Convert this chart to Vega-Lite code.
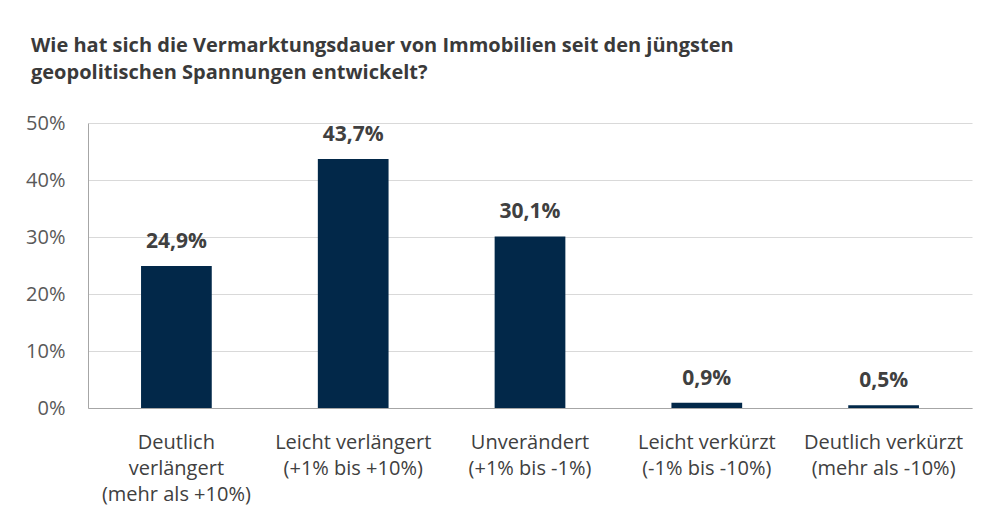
{
  "$schema": "https://vega.github.io/schema/vega-lite/v6.json",
  "width": 884,
  "height": 285,
  "autosize": {"type": "none"},
  "padding": {"left": 88, "top": 123, "right": 14, "bottom": 113},
  "background": "white",
  "config": {
    "locale": {"number": {"decimal": ",", "thousands": ".", "grouping": [3], "currency": ["", " €"]}},
    "font": "Open Sans",
    "view": {"stroke": null}
  },
  "title": {
    "text": ["Wie hat sich die Vermarktungsdauer von Immobilien seit den jüngsten", "geopolitischen Spannungen entwickelt?"],
    "anchor": "start",
    "frame": "group",
    "dx": -57,
    "offset": 30,
    "fontSize": 20,
    "fontWeight": "bold",
    "color": "#3a3a3a",
    "lineHeight": 27,
    "font": "Open Sans"
  },
  "data": {
    "values": [
      {"kategorie": "Deutlich|verlängert|(mehr als +10%)", "anteil": 0.249},
      {"kategorie": "Leicht verlängert|(+1% bis +10%)", "anteil": 0.437},
      {"kategorie": "Unverändert|(+1% bis -1%)", "anteil": 0.301},
      {"kategorie": "Leicht verkürzt|(-1% bis -10%)", "anteil": 0.009},
      {"kategorie": "Deutlich verkürzt|(mehr als -10%)", "anteil": 0.005}
    ]
  },
  "encoding": {
    "x": {
      "field": "kategorie",
      "type": "nominal",
      "sort": null,
      "scale": {"paddingInner": 0.6, "paddingOuter": 0.3},
      "axis": {
        "title": null,
        "labelAngle": 0,
        "labelExpr": "split(datum.label, '|')",
        "labelFontSize": 20,
        "labelColor": "#404040",
        "labelLineHeight": 26,
        "labelPadding": 24,
        "labelLimit": 0,
        "labelOverlap": false,
        "ticks": false,
        "domainColor": "#a6a6a6",
        "labelBaseline": "top"
      }
    },
    "y": {
      "field": "anteil",
      "type": "quantitative",
      "scale": {"domain": [0, 0.5]},
      "axis": {
        "title": null,
        "format": ".0%",
        "values": [0, 0.1, 0.2, 0.3, 0.4, 0.5],
        "labelFontSize": 20,
        "labelColor": "#595959",
        "labelPadding": 23,
        "labelOverlap": false,
        "labelFlush": false,
        "ticks": false,
        "domain": true,
        "domainColor": "#a6a6a6",
        "gridColor": "#d9d9d9"
      }
    }
  },
  "layer": [
    {"mark": {"type": "bar", "color": "#022849"}},
    {
      "mark": {"type": "text", "baseline": "bottom", "dy": -14, "fontSize": 21, "fontWeight": "bold", "color": "#404040"},
      "encoding": {"text": {"field": "anteil", "type": "quantitative", "format": ".1%"}}
    }
  ]
}
